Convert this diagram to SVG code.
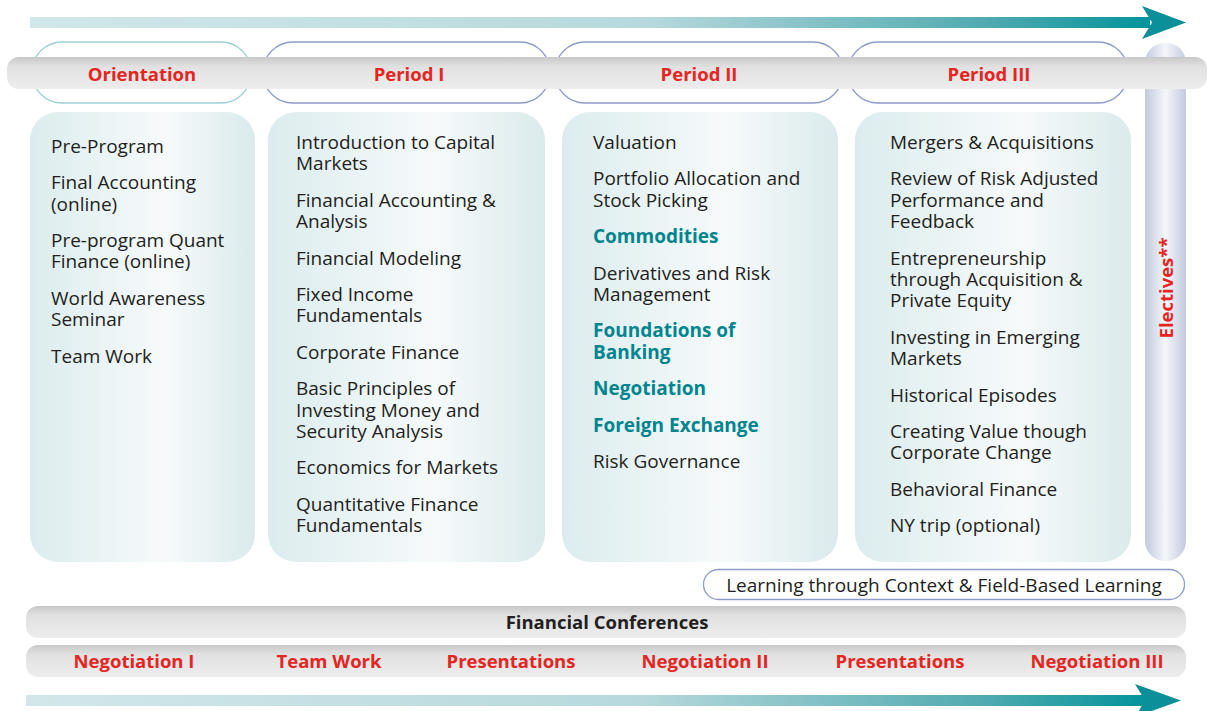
<svg xmlns="http://www.w3.org/2000/svg" width="1209" height="711" viewBox="0 0 1209 711">
<defs>
<linearGradient id="arrowGrad" x1="0" y1="0" x2="1" y2="0">
<stop offset="0" stop-color="#d2e7ea"/>
<stop offset="0.55" stop-color="#b7d9dd"/>
<stop offset="0.85" stop-color="#52abb1"/>
<stop offset="1" stop-color="#05939b"/>
</linearGradient>
<linearGradient id="bandGrad" x1="0" y1="0" x2="0" y2="1">
<stop offset="0" stop-color="#c8c8c9"/>
<stop offset="0.3" stop-color="#e1e1e2"/>
<stop offset="1" stop-color="#ededed"/>
</linearGradient>
<linearGradient id="colGrad" x1="0" y1="0" x2="1" y2="0">
<stop offset="0" stop-color="#dcecee"/>
<stop offset="0.6" stop-color="#f6fafb"/>
<stop offset="1" stop-color="#dbeaec"/>
</linearGradient>
<linearGradient id="elecGrad" x1="0" y1="0" x2="1" y2="0">
<stop offset="0" stop-color="#c2cadd"/>
<stop offset="0.5" stop-color="#f4f6fa"/>
<stop offset="1" stop-color="#c2cadd"/>
</linearGradient>
<style>
.t{font-family:"Open Sans","Noto Sans","Liberation Sans",sans-serif;font-size:19px;fill:#231f20}
.tb{font-family:"Open Sans","Noto Sans","Liberation Sans",sans-serif;font-size:19px;font-weight:bold;fill:#00858f}
.h{font-family:"Open Sans","Noto Sans","Liberation Sans",sans-serif;font-size:18.5px;font-weight:bold;fill:#e42521;text-anchor:middle}
.k{font-family:"Open Sans","Noto Sans","Liberation Sans",sans-serif;font-size:18.5px;font-weight:bold;fill:#231f20;text-anchor:middle}
.col{fill:url(#colGrad)}
.band{fill:url(#bandGrad)}
.oval{fill:#ffffff;stroke-width:1.3}
</style>
</defs>
<rect width="1209" height="711" fill="#ffffff"/>

<g id="connectors">
<g id="arrow-top">
<rect x="30" y="17" width="1120" height="11" fill="url(#arrowGrad)"/>
<polygon points="1142,6 1186,22.5 1142,39 1152,22.5" fill="#0b8f98"/>
</g>
<g id="arrow-bottom">
<rect x="26" y="695" width="1120" height="11" fill="url(#arrowGrad)"/>
<polygon points="1135,684 1181,700.5 1135,717 1145,700.5" fill="#0b8f98"/>
</g>
</g>

<g id="electives">
<rect x="1145" y="43" width="41" height="518" rx="20" fill="url(#elecGrad)"/>
</g>

<g id="header-ovals">
<rect class="oval" x="32" y="42" width="219" height="61" rx="30" stroke="#9fd0d6"/>
<rect class="oval" x="263" y="42" width="287" height="61" rx="30" stroke="#8d9cc9"/>
<rect class="oval" x="555" y="42" width="288" height="61" rx="30" stroke="#8d9cc9"/>
<rect class="oval" x="848" y="42" width="280" height="61" rx="30" stroke="#8d9cc9"/>
</g>

<g id="header-band">
<rect class="band" x="7" y="57" width="1200" height="32" rx="12"/>
<text class="h" x="142" y="81">Orientation</text>
<text class="h" x="409" y="81">Period I</text>
<text class="h" x="699" y="81">Period II</text>
<text class="h" x="989" y="81">Period III</text>
</g>

<g id="electives-label">
<text class="h" transform="translate(1173,288) rotate(-90)">Electives**</text>
</g>

<g id="col-orientation">
<rect class="col" x="30" y="112" width="225" height="450" rx="28"/>
<text class="t" x="51" y="153">Pre-Program</text>
<text class="t" x="51" y="189">Final Accounting</text>
<text class="t" x="51" y="211">(online)</text>
<text class="t" x="51" y="247">Pre-program Quant</text>
<text class="t" x="51" y="268">Finance (online)</text>
<text class="t" x="51" y="305">World Awareness</text>
<text class="t" x="51" y="326">Seminar</text>
<text class="t" x="51" y="363">Team Work</text>
</g>

<g id="col-period1">
<rect class="col" x="268" y="112" width="277" height="450" rx="28"/>
<text class="t" x="296" y="149">Introduction to Capital</text>
<text class="t" x="296" y="170">Markets</text>
<text class="t" x="296" y="207">Financial Accounting &amp;</text>
<text class="t" x="296" y="228">Analysis</text>
<text class="t" x="296" y="265">Financial Modeling</text>
<text class="t" x="296" y="301">Fixed Income</text>
<text class="t" x="296" y="322">Fundamentals</text>
<text class="t" x="296" y="359">Corporate Finance</text>
<text class="t" x="296" y="395">Basic Principles of</text>
<text class="t" x="296" y="417">Investing Money and</text>
<text class="t" x="296" y="438">Security Analysis</text>
<text class="t" x="296" y="474">Economics for Markets</text>
<text class="t" x="296" y="511">Quantitative Finance</text>
<text class="t" x="296" y="532">Fundamentals</text>
</g>

<g id="col-period2">
<rect class="col" x="562" y="112" width="276" height="450" rx="28"/>
<text class="t" x="593" y="149">Valuation</text>
<text class="t" x="593" y="185">Portfolio Allocation and</text>
<text class="t" x="593" y="207">Stock Picking</text>
<text class="tb" x="593" y="243">Commodities</text>
<text class="t" x="593" y="280">Derivatives and Risk</text>
<text class="t" x="593" y="301">Management</text>
<text class="tb" x="593" y="337">Foundations of</text>
<text class="tb" x="593" y="359">Banking</text>
<text class="tb" x="593" y="395">Negotiation</text>
<text class="tb" x="593" y="432">Foreign Exchange</text>
<text class="t" x="593" y="468">Risk Governance</text>
</g>

<g id="col-period3">
<rect class="col" x="855" y="112" width="276" height="450" rx="28"/>
<text class="t" x="890" y="149">Mergers &amp; Acquisitions</text>
<text class="t" x="890" y="185">Review of Risk Adjusted</text>
<text class="t" x="890" y="207">Performance and</text>
<text class="t" x="890" y="228">Feedback</text>
<text class="t" x="890" y="265">Entrepreneurship</text>
<text class="t" x="890" y="286">through Acquisition &amp;</text>
<text class="t" x="890" y="307">Private Equity</text>
<text class="t" x="890" y="344">Investing in Emerging</text>
<text class="t" x="890" y="365">Markets</text>
<text class="t" x="890" y="402">Historical Episodes</text>
<text class="t" x="890" y="438">Creating Value though</text>
<text class="t" x="890" y="459">Corporate Change</text>
<text class="t" x="890" y="496">Behavioral Finance</text>
<text class="t" x="890" y="532">NY trip (optional)</text>
</g>

<g id="learning-context">
<rect x="703.5" y="569.5" width="481" height="30" rx="15" fill="#ffffff" stroke="#8d9cc9" stroke-width="1.3"/>
<text class="t" x="944" y="592" text-anchor="middle">Learning through Context &amp; Field-Based Learning</text>
</g>

<g id="financial-conferences">
<rect class="band" x="26" y="606" width="1160" height="32" rx="12"/>
<text class="k" x="607" y="629">Financial Conferences</text>
</g>

<g id="skills-band">
<rect class="band" x="26" y="645" width="1160" height="32" rx="12"/>
<text class="h" x="134" y="668">Negotiation I</text>
<text class="h" x="329" y="668">Team Work</text>
<text class="h" x="511" y="668">Presentations</text>
<text class="h" x="705" y="668">Negotiation II</text>
<text class="h" x="900" y="668">Presentations</text>
<text class="h" x="1097" y="668">Negotiation III</text>
</g>
</svg>
